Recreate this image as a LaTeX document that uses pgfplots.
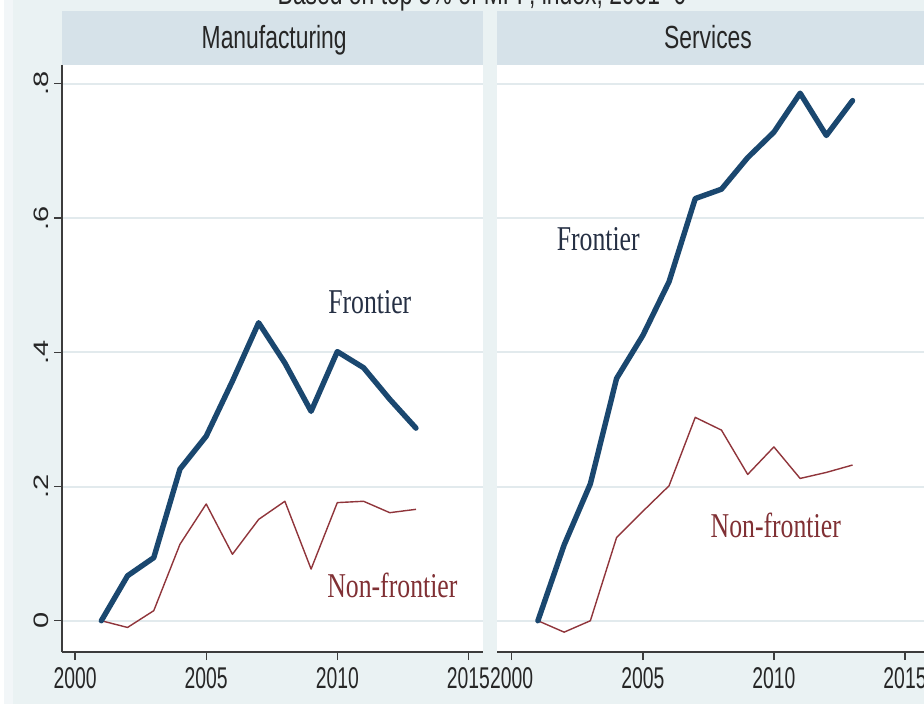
\documentclass[border=0pt]{standalone}
\usepackage{pgfplots}
\pgfplotsset{compat=1.18}
\usepackage{fontspec}
\setmainfont{Liberation Sans}
\newfontfamily\headsans{Liberation Sans}[FakeStretch=0.715]
\newfontfamily\ticksans{Liberation Sans}[FakeStretch=0.645]
\newfontfamily\ysans{Liberation Sans}
\newfontfamily\labserif{Liberation Serif}[FakeStretch=0.74]
\definecolor{outerbg}{RGB}{234,242,243}
\definecolor{edgebg}{RGB}{242,246,248}
\definecolor{stripbg}{RGB}{214,226,233}
\definecolor{gridc}{RGB}{226,234,237}
\definecolor{axisc}{RGB}{60,60,60}
\definecolor{snavy}{RGB}{26,71,111}
\definecolor{smaroon}{RGB}{144,53,59}
\definecolor{labnavy}{RGB}{38,48,68}
\definecolor{labmaroon}{RGB}{128,48,52}

\pgfplotstableread{
year front nonfront
2001 0     0
2002 0.067 -0.010
2003 0.094 0.015
2004 0.226 0.114
2005 0.275 0.174
2006 0.357 0.099
2007 0.444 0.151
2008 0.384 0.178
2009 0.312 0.077
2010 0.401 0.176
2011 0.377 0.178
2012 0.330 0.161
2013 0.287 0.166
}\manuf

\pgfplotstableread{
year front nonfront
2001 0     0
2002 0.113 -0.017
2003 0.204 0.000
2004 0.361 0.124
2005 0.425 0.163
2006 0.505 0.201
2007 0.629 0.303
2008 0.643 0.284
2009 0.690 0.218
2010 0.728 0.259
2011 0.786 0.212
2012 0.723 0.221
2013 0.775 0.232
}\serv

\pgfplotsset{
  stata/.style={
    scale only axis,
    height=293.5pt,
    ymin=-0.0466, ymax=0.828,
    axis x line*=bottom,
    axis y line*=left,
    axis line style={-, draw=axisc, line width=0.8pt},
    axis background/.style={fill=white},
    tick align=outside,
    major tick length=4pt,
    tick style={draw=axisc, line width=0.7pt},
    xtick={2000,2005,2010,2015},
    xticklabels={2000,2005,2010,2015},
    ytick={0,0.2,0.4,0.6,0.8},
    yticklabels={0,.2,.4,.6,.8},
    xticklabel style={font=\ticksans\fontsize{15pt}{15pt}\selectfont, text=black!85},
    yticklabel style={font=\ysans\fontsize{14.5pt}{14.5pt}\selectfont, text=black!85, rotate=90, anchor=south, yscale=0.72},
    ymajorgrids,
    major grid style={draw=gridc, line width=1pt},
    clip=false,
  },
  front/.style={draw=snavy, line width=2.7pt, line join=round, line cap=round},
  nonfront/.style={draw=smaroon, line width=0.7pt, line join=round},
}

\begin{document}
\begin{tikzpicture}
\useasboundingbox (0,0) rectangle (462pt,-351.5pt);
\fill[outerbg] (-2pt,2pt) rectangle (470pt,-355pt);
\fill[edgebg] (0,2pt) rectangle (6.5pt,-355pt);
\fill[white] (-2pt,2pt) rectangle (2pt,-355pt);
% strips
\fill[stripbg] (31pt,-5.5pt) rectangle (241.35pt,-32.5pt);
\fill[stripbg] (248.65pt,-5.5pt) rectangle (470pt,-32.5pt);
\node[anchor=base, font=\headsans\fontsize{16pt}{16pt}\selectfont, text=black!85] at (137.1pt,-24pt) {Manufacturing};
\node[anchor=base, font=\headsans\fontsize{16pt}{16pt}\selectfont, text=black!85] at (354pt,-24pt) {Services};
\node[anchor=base, font=\headsans\fontsize{16pt}{16pt}\selectfont, text=black!85] at (241pt,-2pt) {Based on top 5\% of MFP, index, 2001=0};

\begin{axis}[stata, at={(31pt,-326pt)}, anchor=south west,
  width=210.35pt, xmin=1999.5, xmax=2015.545]
  \addplot[nonfront] table[x=year, y=nonfront] {\manuf};
  \addplot[front] table[x=year, y=front] {\manuf};
  \node[font=\labserif\fontsize{17.4pt}{17.4pt}\selectfont, text=labnavy] at (axis cs:2011.24,0.475) {Frontier};
  \node[font=\labserif\fontsize{17.4pt}{17.4pt}\selectfont, text=labmaroon] at (axis cs:2012.1,0.053) {Non-frontier};
\end{axis}

\begin{axis}[stata, at={(248.65pt,-326pt)}, anchor=south west,
  width=214.35pt, xmin=1999.451, xmax=2015.801,
  y axis line style={draw=none}, ytick style={draw=none}, yticklabels={}]
  \addplot[nonfront] table[x=year, y=nonfront] {\serv};
  \addplot[front] table[x=year, y=front] {\serv};
  \node[font=\labserif\fontsize{17.4pt}{17.4pt}\selectfont, text=labnavy] at (axis cs:2003.3,0.569) {Frontier};
  \node[font=\labserif\fontsize{17.4pt}{17.4pt}\selectfont, text=labmaroon] at (axis cs:2010.07,0.142) {Non-frontier};
\end{axis}
\end{tikzpicture}
\end{document}
